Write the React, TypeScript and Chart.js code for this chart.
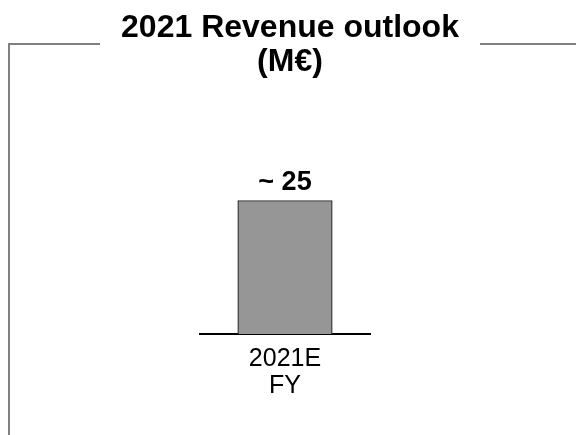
import React, { useEffect, useRef } from "react";
import { Chart, registerables } from "chart.js";

Chart.register(...registerables);

const titleLines = ["2021 Revenue outlook", "(M€)"];
const categories = [["2021E", "FY"]];
const revenueValues = [25];
const valuePrefix = "~ ";

const FONT = "'Liberation Sans', Arial, sans-serif";

const framePlugin = {
  id: "frame",
  beforeDraw(chart: any) {
    const ctx = chart.ctx;
    ctx.save();
    ctx.strokeStyle = "#808080";
    ctx.lineWidth = 2;
    ctx.beginPath();
    ctx.moveTo(9, 435);
    ctx.lineTo(9, 44);
    ctx.lineTo(100, 44);
    ctx.moveTo(480, 44);
    ctx.lineTo(576, 44);
    ctx.stroke();
    ctx.restore();
  },
  afterDraw(chart: any) {
    const ctx = chart.ctx;
    ctx.save();
    ctx.fillStyle = "#000";
    ctx.font = `bold 32px ${FONT}`;
    ctx.textAlign = "center";
    ctx.textBaseline = "middle";
    titleLines.forEach((t, i) => ctx.fillText(t, 290, 28 + i * 34));
    ctx.restore();
  },
};

const valueLabelPlugin = {
  id: "valueLabels",
  afterDatasetsDraw(chart: any) {
    const ctx = chart.ctx;
    ctx.save();
    ctx.fillStyle = "#000";
    ctx.font = `bold 27px ${FONT}`;
    ctx.textAlign = "center";
    ctx.textBaseline = "alphabetic";
    chart.data.datasets.forEach((ds: any, di: number) => {
      const meta = chart.getDatasetMeta(di);
      meta.data.forEach((el: any, i: number) => {
        ctx.fillText(valuePrefix + ds.data[i], el.x, el.y - 10);
      });
    });
    ctx.restore();
  },
};

export default function App() {
  const ref = useRef<HTMLCanvasElement>(null);
  useEffect(() => {
    if (!ref.current) return;
    const chart = new Chart(ref.current, {
      type: "bar",
      data: {
        labels: categories as any,
        datasets: [
          {
            data: revenueValues,
            backgroundColor: "#969696",
            borderColor: "#333333",
            borderWidth: 1.5,
            borderSkipped: "bottom",
            barPercentage: 0.56,
            categoryPercentage: 1,
          },
        ],
      },
      options: {
        animation: false,
        responsive: true,
        maintainAspectRatio: false,
        layout: { padding: { left: 200, right: 206, top: 120, bottom: 24 } },
        plugins: {
          legend: { display: false },
          tooltip: { enabled: false },
          title: { display: false },
        },
        scales: {
          x: {
            grid: { display: false, drawTicks: false },
            border: { display: true, color: "#000", width: 2 },
            ticks: {
              color: "#000",
              font: { family: FONT, size: 25, lineHeight: 1.1 },
              padding: 11,
            },
          },
          y: {
            display: false,
            min: 0,
            max: 40,
          },
        },
      },
      plugins: [framePlugin, valueLabelPlugin],
    });
    return () => chart.destroy();
  }, []);
  return (
    <div style={{ position: "absolute", left: 0, top: 0, width: 576, height: 435 }}>
      <canvas ref={ref} />
    </div>
  );
}
